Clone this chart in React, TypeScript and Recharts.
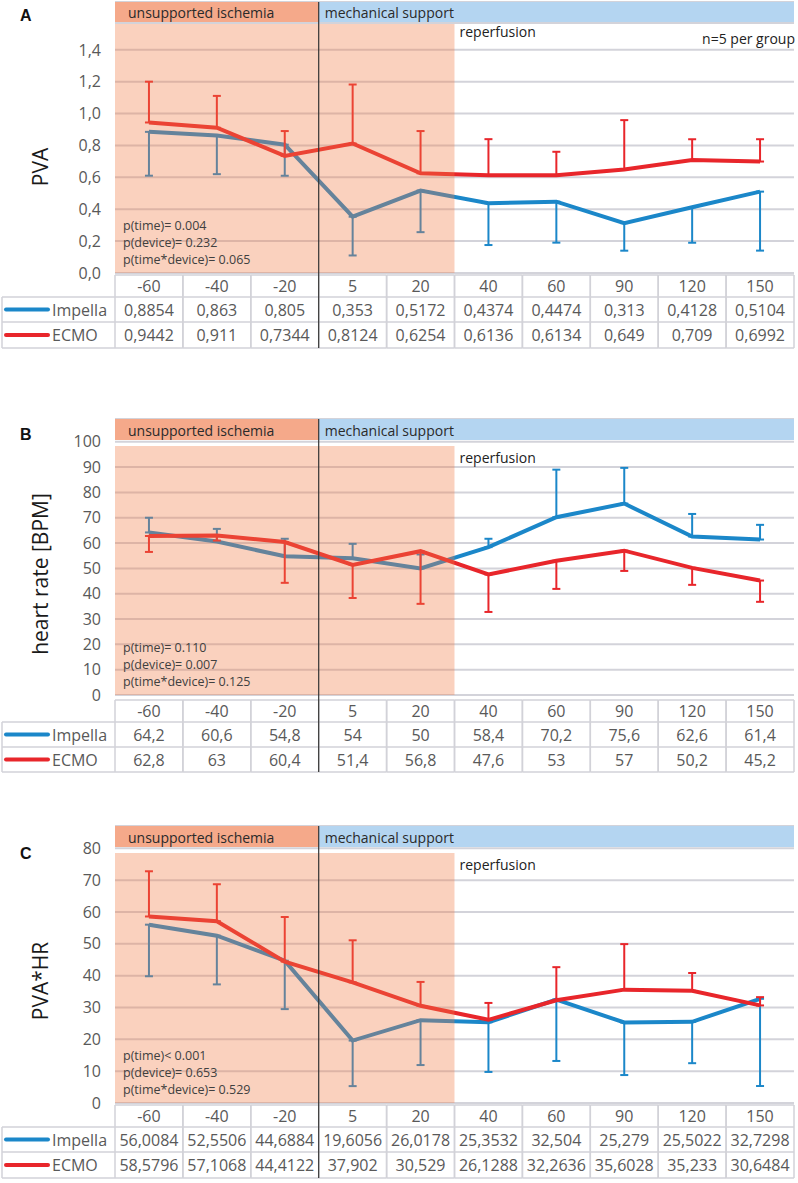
import React from 'react';
import {
  ComposedChart,
  Line,
  XAxis,
  YAxis,
  CartesianGrid,
  ErrorBar,
  ReferenceArea,
  ReferenceLine,
} from 'recharts';

// ---------- data ----------
const timepoints = ['-60', '-40', '-20', '5', '20', '40', '60', '90', '120', '150'];

const pvaImpella = [0.8854, 0.863, 0.805, 0.353, 0.5172, 0.4374, 0.4474, 0.313, 0.4128, 0.5104];
const pvaEcmo = [0.9442, 0.911, 0.7344, 0.8124, 0.6254, 0.6136, 0.6134, 0.649, 0.709, 0.6992];
const pvaImpellaSD = [0.275, 0.243, 0.195, 0.243, 0.261, 0.262, 0.257, 0.173, 0.223, 0.37];
const pvaEcmoSD = [0.256, 0.2, 0.156, 0.37, 0.265, 0.226, 0.147, 0.31, 0.13, 0.14];
const pvaTicks = [0, 0.2, 0.4, 0.6, 0.8, 1.0, 1.2, 1.4];
const pvaStats = ['p(time)= 0.004', 'p(device)= 0.232', 'p(time*device)= 0.065'];

const hrImpella = [64.2, 60.6, 54.8, 54, 50, 58.4, 70.2, 75.6, 62.6, 61.4];
const hrEcmo = [62.8, 63, 60.4, 51.4, 56.8, 47.6, 53, 57, 50.2, 45.2];
const hrImpellaSD = [5.8, 5.0, 6.9, 5.7, 5.5, 3.3, 18.8, 14.1, 8.9, 5.8];
const hrEcmoSD = [6.3, 2.0, 16.1, 13.1, 20.8, 14.8, 11.1, 8.0, 6.7, 8.4];
const hrTicks = [0, 10, 20, 30, 40, 50, 60, 70, 80, 90, 100];
const hrStats = ['p(time)= 0.110', 'p(device)= 0.007', 'p(time*device)= 0.125'];

const phrImpella = [56.0084, 52.5506, 44.6884, 19.6056, 26.0178, 25.3532, 32.504, 25.279, 25.5022, 32.7298];
const phrEcmo = [58.5796, 57.1068, 44.4122, 37.902, 30.529, 26.1288, 32.2636, 35.6028, 35.233, 30.6484];
const phrImpellaSD = [16.2, 15.3, 15.2, 14.3, 14.1, 15.6, 19.3, 16.5, 13.0, 27.4];
const phrEcmoSD = [14.2, 11.6, 14.0, 13.2, 7.5, 5.3, 10.4, 14.3, 5.6, 2.6];
const phrTicks = [0, 10, 20, 30, 40, 50, 60, 70, 80];
const phrStats = ['p(time)< 0.001', 'p(device)= 0.653', 'p(time*device)= 0.529'];

const seriesNames = ['Impella', 'ECMO'];

// ---------- style ----------
const FONT = '"Open Sans", "Noto Sans", sans-serif';
const GRID = '#d3d3da';
const TABLE = '#d2d2d8';
const GRAY = '#595959';
const BLUE = '#1b87c9';
const RED = '#e8262b';
const CHART_W = 798;
const MARGIN_R = 4;
const YAXIS_W = 115;
const BAND = (CHART_W - YAXIS_W - MARGIN_R) / timepoints.length;

const fmtNum = (v: number) => String(v).replace('.', ',');

type PanelCfg = {
  letter: string;
  letterTop: number;
  top: number;
  height: number;
  marginTop: number;
  marginBottom: number;
  axisHeight: number;
  tableOffset: number;
  lastRow: number;
  domainMax: number;
  headerBottom: number;
  shadeTop: number;
  underHeader?: number;
  ticks: number[];
  tickFmt: (v: number) => string;
  yLabel: string;
  yLabelY: number;
  reperfY: number;
  showN?: boolean;
  stats: string[];
  imp: number[];
  ecmo: number[];
  impSD: number[];
  ecmoSD: number[];
  impDown: boolean;
};

function renderTableTick(props: any, cfg: PanelCfg) {
  const { x, y, payload } = props;
  const i = payload.index;
  const half = payload.offset && payload.offset > 1 ? payload.offset : BAND / 2;
  const r0 = y + cfg.tableOffset;
  const r1 = r0 + 22;
  const r2 = r1 + 25;
  const r3 = r2 + cfg.lastRow;
  const L = x - half;
  const R = x + half;
  const LX = 2;
  const sw = 1.5;
  const textProps = {
    fontFamily: FONT,
    fontSize: 16,
    fill: GRAY,
    textAnchor: 'middle' as const,
    dominantBaseline: 'central' as const,
  };
  return (
    <g>
      <line x1={L} x2={R} y1={r0} y2={r0} stroke={TABLE} strokeWidth={sw} />
      <line x1={L} x2={R} y1={r1} y2={r1} stroke={TABLE} strokeWidth={sw} />
      <line x1={L} x2={R} y1={r2} y2={r2} stroke={TABLE} strokeWidth={sw} />
      <line x1={L} x2={R} y1={r3} y2={r3} stroke={TABLE} strokeWidth={sw} />
      <line x1={R} x2={R} y1={r0} y2={r3} stroke={TABLE} strokeWidth={sw} />
      {i === 3 ? (
        <line x1={L} x2={L} y1={y} y2={r3} stroke="#333" strokeWidth={1.2} />
      ) : (
        <line x1={L} x2={L} y1={r0} y2={r3} stroke={TABLE} strokeWidth={sw} />
      )}
      <text x={x} y={(r0 + r1) / 2} {...textProps}>{payload.value}</text>
      <text x={x} y={(r1 + r2) / 2} {...textProps}>{fmtNum(cfg.imp[i])}</text>
      <text x={x} y={(r2 + r3) / 2} {...textProps}>{fmtNum(cfg.ecmo[i])}</text>
      {i === 0 && (
        <g>
          <line x1={LX} x2={L} y1={r1} y2={r1} stroke={TABLE} strokeWidth={sw} />
          <line x1={LX} x2={L} y1={r2} y2={r2} stroke={TABLE} strokeWidth={sw} />
          <line x1={LX} x2={L} y1={r3} y2={r3} stroke={TABLE} strokeWidth={sw} />
          <line x1={LX} x2={LX} y1={r1} y2={r3} stroke={TABLE} strokeWidth={sw} />
          <line x1={6} x2={48} y1={(r1 + r2) / 2} y2={(r1 + r2) / 2} stroke={BLUE} strokeWidth={4} strokeLinecap="round" />
          <line x1={6} x2={48} y1={(r2 + r3) / 2} y2={(r2 + r3) / 2} stroke={RED} strokeWidth={4} strokeLinecap="round" />
          <text x={52} y={(r1 + r2) / 2} {...textProps} textAnchor="start">{seriesNames[0]}</text>
          <text x={52} y={(r2 + r3) / 2} {...textProps} textAnchor="start">{seriesNames[1]}</text>
        </g>
      )}
    </g>
  );
}

function Panel({ cfg }: { cfg: PanelCfg }) {
  const data = timepoints.map((t, i) => ({
    t,
    imp: cfg.imp[i],
    ecmo: cfg.ecmo[i],
    impErr: cfg.impDown ? [cfg.impSD[i], 0] : [0, cfg.impSD[i]],
    ecmoErr: cfg.impDown ? [0, cfg.ecmoSD[i]] : [cfg.ecmoSD[i], 0],
  }));

  return (
    <div style={{ position: 'absolute', left: 0, top: cfg.top, width: CHART_W, height: cfg.height }}>
      <div
        style={{
          position: 'absolute',
          left: 20,
          top: cfg.letterTop - 10,
          fontFamily: '"Liberation Sans", Arial, sans-serif',
          fontWeight: 'bold',
          fontSize: 16,
          lineHeight: '20px',
          color: '#111',
        }}
      >
        {cfg.letter}
      </div>
      <ComposedChart
        width={CHART_W}
        height={cfg.height}
        data={data}
        margin={{ top: cfg.marginTop, right: MARGIN_R, bottom: cfg.marginBottom, left: 0 }}
      >
        <CartesianGrid horizontal vertical={false} stroke={GRID} strokeWidth={2} />
        <XAxis
          dataKey="t"
          type="category"
          scale="band"
          interval={0}
          axisLine={false}
          tickLine={false}
          tickSize={0}
          tickMargin={0}
          height={cfg.axisHeight}
          tick={(p: any) => renderTableTick(p, cfg)}
        />
        <YAxis
          type="number"
          domain={[0, cfg.domainMax]}
          ticks={cfg.ticks}
          interval={0}
          width={YAXIS_W}
          axisLine={false}
          tickLine={false}
          tickSize={0}
          tickMargin={14}
          tickFormatter={cfg.tickFmt}
          tick={{ fill: GRAY, fontSize: 16, fontFamily: FONT }}
          label={(p: any) => (
            <text
              x={40}
              y={cfg.yLabelY}
              transform={`rotate(-90, 40, ${cfg.yLabelY})`}
              textAnchor="middle"
              dominantBaseline="central"
              fontFamily={FONT}
              fontSize={21}
              fill="#1a1a1a"
            >
              {cfg.yLabel}
            </text>
          )}
        />
        <Line
          dataKey="imp"
          stroke={BLUE}
          strokeWidth={4}
          dot={false}
          activeDot={false}
          isAnimationActive={false}
        >
          <ErrorBar dataKey="impErr" width={4} stroke={BLUE} strokeWidth={2} direction="y" />
        </Line>
        <Line
          dataKey="ecmo"
          stroke={RED}
          strokeWidth={4}
          dot={false}
          activeDot={false}
          isAnimationActive={false}
        >
          <ErrorBar dataKey="ecmoErr" width={4} stroke={RED} strokeWidth={2} direction="y" />
        </Line>
        <ReferenceArea
          x1="-60"
          x2="20"
          y1={0}
          y2={cfg.shadeTop}
          fill="#f07a45"
          fillOpacity={0.35}
          stroke="none"
          zIndex={1000}
          label={(p: any) => {
            const vb = p.viewBox || {};
            const bottom = vb.y + vb.height;
            return (
              <g>
                <text
                  x={vb.x + vb.width + 5}
                  y={cfg.reperfY}
                  fontFamily={FONT}
                  fontSize={14}
                  fill="#222"
                  dominantBaseline="central"
                >
                  reperfusion
                </text>
                {cfg.stats.map((s, k) => (
                  <text
                    key={k}
                    x={vb.x + 8}
                    y={bottom - 48 + k * 17}
                    fontFamily={FONT}
                    fontSize={12.5}
                    fill="#404040"
                    dominantBaseline="central"
                  >
                    {s}
                  </text>
                ))}
              </g>
            );
          }}
        />
        <ReferenceArea
          x1="-60"
          x2="-20"
          y1={cfg.headerBottom}
          y2={cfg.domainMax}
          fill="#f5a98a"
          fillOpacity={1}
          stroke="none"
          zIndex={1001}
          label={(p: any) => {
            const vb = p.viewBox || {};
            return (
              <text
                x={vb.x + 13}
                y={vb.y + vb.height / 2 + 1}
                fontFamily={FONT}
                fontSize={14}
                fill="#2a2a2a"
                dominantBaseline="central"
              >
                unsupported ischemia
              </text>
            );
          }}
        />
        <ReferenceArea
          x1="5"
          x2="150"
          y1={cfg.headerBottom}
          y2={cfg.domainMax}
          fill="#b4d5f1"
          fillOpacity={1}
          stroke="none"
          zIndex={1001}
          label={(p: any) => {
            const vb = p.viewBox || {};
            return (
              <g>
                <text
                  x={vb.x + 6}
                  y={vb.y + vb.height / 2 + 1}
                  fontFamily={FONT}
                  fontSize={14}
                  fill="#2a2a2a"
                  dominantBaseline="central"
                >
                  mechanical support
                </text>
                {cfg.showN && (
                  <text
                    x={vb.x + vb.width + 1}
                    y={38}
                    fontFamily={FONT}
                    fontSize={14}
                    fill="#222"
                    textAnchor="end"
                    dominantBaseline="central"
                  >
                    n=5 per group
                  </text>
                )}
              </g>
            );
          }}
        />
        {cfg.underHeader !== undefined && (
          <ReferenceLine y={cfg.underHeader} stroke={GRID} strokeWidth={2} zIndex={1001} />
        )}
        <ReferenceLine x="5" position="start" stroke="#333" strokeWidth={1.2} zIndex={1002} />
      </ComposedChart>
    </div>
  );
}

const panels: PanelCfg[] = [
  {
    letter: 'A',
    letterTop: 16,
    top: 0,
    height: 350,
    marginTop: 2,
    marginBottom: 2,
    axisHeight: 75,
    tableOffset: 2,
    lastRow: 26,
    domainMax: 1.7,
    headerBottom: 1.575,
    shadeTop: 1.562,
    underHeader: 1.568,
    ticks: pvaTicks,
    tickFmt: (v: number) => v.toFixed(1).replace('.', ','),
    yLabel: 'PVA',
    yLabelY: 167,
    reperfY: 31,
    showN: true,
    stats: pvaStats,
    imp: pvaImpella,
    ecmo: pvaEcmo,
    impSD: pvaImpellaSD,
    ecmoSD: pvaEcmoSD,
    impDown: true,
  },
  {
    letter: 'B',
    letterTop: 18,
    top: 417,
    height: 357,
    marginTop: 2,
    marginBottom: 2,
    axisHeight: 77,
    tableOffset: 5,
    lastRow: 25,
    domainMax: 109,
    headerBottom: 100.7,
    shadeTop: 98.3,
    ticks: hrTicks,
    tickFmt: (v: number) => String(v),
    yLabel: 'heart rate [BPM]',
    yLabelY: 157,
    reperfY: 40,
    stats: hrStats,
    imp: hrImpella,
    ecmo: hrEcmo,
    impSD: hrImpellaSD,
    ecmoSD: hrEcmoSD,
    impDown: false,
  },
  {
    letter: 'C',
    letterTop: 30,
    top: 824,
    height: 358,
    marginTop: 2,
    marginBottom: 3,
    axisHeight: 76,
    tableOffset: 2,
    lastRow: 26,
    domainMax: 87,
    headerBottom: 80.4,
    shadeTop: 78.5,
    ticks: phrTicks,
    tickFmt: (v: number) => String(v),
    yLabel: 'PVA*HR',
    yLabelY: 157,
    reperfY: 40,
    stats: phrStats,
    imp: phrImpella,
    ecmo: phrEcmo,
    impSD: phrImpellaSD,
    ecmoSD: phrEcmoSD,
    impDown: true,
  },
];

export default function App() {
  return (
    <div
      style={{
        position: 'absolute',
        left: 0,
        top: 0,
        width: CHART_W,
        height: 1183,
        background: '#fff',
        overflow: 'hidden',
      }}
    >
      {panels.map((cfg) => (
        <Panel key={cfg.letter} cfg={cfg} />
      ))}
    </div>
  );
}
